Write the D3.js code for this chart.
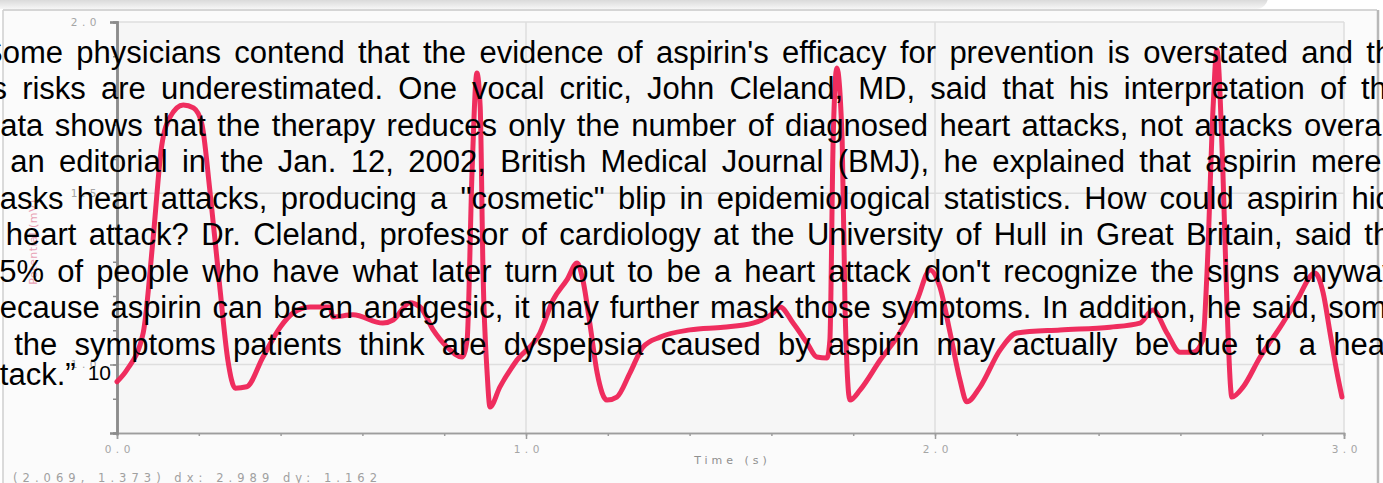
<!DOCTYPE html>
<html><head><meta charset="utf-8">
<script src="https://cdn.jsdelivr.net/npm/d3@7"></script>
<style>html,body{margin:0;padding:0;background:#fff;overflow:hidden}</style>
</head><body>
<svg id="chart" width="1383" height="483"></svg>
<script>
// ---------- data ----------
const timeS = [0.000,0.024,0.064,0.088,0.109,0.130,0.162,0.187,0.207,0.227,0.252,0.271,0.289,0.317,0.357,0.399,0.430,0.472,0.521,0.528,
0.577,0.650,0.675,0.716,0.741,0.773,0.807,0.844,0.856,0.868,0.880,0.888,0.895,0.905,0.912,0.936,0.978,1.034,1.066,1.100,
1.125,1.139,1.156,1.174,1.198,1.222,1.254,1.286,1.328,1.401,1.482,1.555,1.604,1.621,1.653,1.687,1.711,1.736,1.743,1.751,
1.760,1.773,1.780,1.792,1.817,1.866,1.914,1.956,1.988,2.012,2.037,2.061,2.078,2.110,2.159,2.200,2.306,2.428,2.501,2.533,
2.567,2.599,2.631,2.655,2.665,2.680,2.689,2.704,2.714,2.726,2.753,2.795,2.844,2.885,2.929,2.949,2.966,2.983,2.995];
const potentialMV = [0.950,0.984,1.092,1.364,1.636,1.723,1.758,1.749,1.705,1.509,1.218,1.013,0.931,0.935,1.022,1.109,1.150,1.168,1.168,1.139,
1.145,1.121,1.130,1.180,1.168,1.101,1.051,1.022,1.072,1.559,1.851,1.752,1.267,0.975,0.876,0.934,1.013,1.092,1.188,1.247,
1.296,1.247,1.121,0.975,0.896,0.905,0.975,1.051,1.080,1.101,1.109,1.121,1.150,1.168,1.121,1.063,1.022,1.019,1.072,1.655,
1.866,1.655,1.168,0.896,0.926,1.013,1.092,1.188,1.276,1.226,1.092,0.955,0.891,0.934,1.042,1.092,1.101,1.109,1.121,1.159,
1.092,1.036,1.036,1.072,1.267,1.752,1.918,1.559,1.168,0.905,0.934,1.022,1.109,1.188,1.267,1.209,1.092,0.975,0.905];
const xMajorTicks = [0, 1, 2, 3];
const xTickLabels = ["0.0", "1.0", "2.0", "3.0"];
const yMajorTicks = [1.0, 1.5, 2.0];
const yTickLabels = ["1.0", "1.5", "2.0"];
const xTitle = "Time (s)";
const yTitle = "Potential (mV)";
const statusText = "(2.069, 1.373) dx: 2.989 dy: 1.162";
const paragraphLines = [
"Some physicians contend that the evidence of aspirin's efficacy for prevention is overstated and that",
"its risks are underestimated. One vocal critic, John Cleland, MD, said that his interpretation of the",
"data shows that the therapy reduces only the number of diagnosed heart attacks, not attacks overall.",
"In an editorial in the Jan. 12, 2002, British Medical Journal (BMJ), he explained that aspirin merely",
"masks heart attacks, producing a \"cosmetic\" blip in epidemiological statistics. How could aspirin hide",
"a heart attack? Dr. Cleland, professor of cardiology at the University of Hull in Great Britain, said that",
"25% of people who have what later turn out to be a heart attack don't recognize the signs anyway.",
"Because aspirin can be an analgesic, it may further mask those symptoms. In addition, he said, some",
"of the symptoms patients think are dyspepsia caused by aspirin may actually be due to a heart",
"attack.\u201D"
];
const footnoteMark = "10";

// ---------- layout ----------
const W = 1383, H = 483;
const plot = {left: 117, right: 1344, top: 22, bottom: 433};
const textFont = "'Liberation Sans', Arial, sans-serif";
const textSize = 31;
const lineBaselines = [63, 99, 135.5, 172, 208.5, 245, 281.5, 318, 355, 385];
const lineLeft  = [-18, -24, -17, -30, -26, -24, -18, -21, -29, -26];
const lineRight = [1418, 1404, 1404, 1404, 1410, 1416, 1404, 1404, 1404, 0];
const axisFont = "'DejaVu Sans', Verdana, sans-serif";

const svg = d3.select("#chart");
const defs = svg.append("defs");
const g1 = defs.append("linearGradient").attr("id","topShade").attr("x1",0).attr("y1",0).attr("x2",0).attr("y2",1);
g1.append("stop").attr("offset",0.6).attr("stop-color","#c6c6c6");
g1.append("stop").attr("offset",1).attr("stop-color","#f6f6f6");

// frame & backgrounds
svg.append("rect").attr("x",0).attr("y",0).attr("width",W).attr("height",H).attr("fill","#ffffff");
svg.append("rect").attr("x",-20).attr("y",-30).attr("width",1288).attr("height",39).attr("rx",12).attr("fill","url(#topShade)");
svg.append("rect").attr("x",3).attr("y",10).attr("width",1374).attr("height",H).attr("fill","#fbfbfb");
svg.append("line").attr("x1",3).attr("x2",1377).attr("y1",10).attr("y2",10).attr("stroke","#c9c9c9").attr("stroke-width",1.5);
svg.append("line").attr("x1",3).attr("x2",3).attr("y1",10).attr("y2",H).attr("stroke","#cfcfcf").attr("stroke-width",1.5);
svg.append("line").attr("x1",1378).attr("x2",1378).attr("y1",10).attr("y2",H).attr("stroke","#b8b8b8").attr("stroke-width",2.5);

const x = d3.scaleLinear().domain([0, 3]).range([plot.left, plot.right]);
const y = d3.scaleLinear().domain([0.8, 2.0]).range([plot.bottom, plot.top]);

svg.append("rect").attr("x",plot.left).attr("y",plot.top).attr("width",plot.right-plot.left).attr("height",plot.bottom-plot.top).attr("fill","#f6f6f6");

// grid
const grid = svg.append("g").attr("stroke","#dedede").attr("stroke-width",1.5);
grid.selectAll(".vg").data(xMajorTicks.slice(1)).join("line")
  .attr("x1",d=>x(d)).attr("x2",d=>x(d)).attr("y1",plot.top).attr("y2",plot.bottom);
grid.selectAll(".hg").data(yMajorTicks.slice(0,2)).join("line")
  .attr("x1",plot.left).attr("x2",plot.right).attr("y1",d=>y(d)).attr("y2",d=>y(d));
grid.append("line").attr("x1",plot.left).attr("x2",plot.right).attr("y1",plot.top).attr("y2",plot.top);

// axes
const tickLS = 4.5;
const xAxisMinor = d3.axisBottom(x).tickValues(d3.range(0, 3.001, 0.2)).tickSize(3).tickFormat("");
const xAxis = d3.axisBottom(x).tickValues(xMajorTicks).tickSize(6).tickFormat((d,i)=>xTickLabels[i]);
const yAxisMinor = d3.axisLeft(y).tickValues(d3.range(0.8, 2.001, 0.1)).tickSize(4).tickFormat("");
const yAxis = d3.axisLeft(y).tickValues(yMajorTicks).tickSize(7).tickFormat((d,i)=>yTickLabels[i]);

function styleAxis(sel, color, w){
  sel.select(".domain").attr("stroke",color).attr("stroke-width",w);
  sel.selectAll(".tick line").attr("stroke",color).attr("stroke-width",1.5);
  sel.selectAll(".tick text").attr("fill","#a5a5a5").attr("font-family",axisFont).attr("font-size",10.5).attr("letter-spacing",tickLS);
}
const gxm = svg.append("g").attr("transform",`translate(0,${plot.bottom})`).call(xAxisMinor); styleAxis(gxm,"#9d9d9d",1.5);
const gx = svg.append("g").attr("transform",`translate(0,${plot.bottom})`).call(xAxis); styleAxis(gx,"#9d9d9d",1.5);
gx.selectAll(".tick text").attr("dy","1.05em").attr("dx",tickLS/2);
const gym = svg.append("g").attr("transform",`translate(${plot.left},0)`).call(yAxisMinor); styleAxis(gym,"#8c8c8c",2.5);
const gy = svg.append("g").attr("transform",`translate(${plot.left},0)`).call(yAxis); styleAxis(gy,"#8c8c8c",2.5);
gy.selectAll(".tick text").attr("x",-16);

svg.append("text").attr("x",(x(0)+x(3))/2 + 2).attr("y",464).attr("text-anchor","middle")
  .attr("font-family",axisFont).attr("font-size",11).attr("letter-spacing",4).attr("fill","#8f8f8f").text(xTitle);
svg.append("text").attr("transform",`translate(37,242) rotate(-90)`).attr("text-anchor","middle")
  .attr("font-family",axisFont).attr("font-size",11).attr("letter-spacing",0.5).attr("fill","#e48aa4").attr("opacity",0.8).text(yTitle);
svg.append("text").attr("x",13).attr("y",482).attr("font-family",axisFont).attr("font-size",11.5)
  .attr("textLength",364).attr("lengthAdjust","spacing").attr("fill","#a0a0a0").text(statusText);

// ECG trace
const pts = d3.range(Math.min(timeS.length, potentialMV.length)).map(i=>({t:timeS[i], v:potentialMV[i]}));
const line = d3.line().x(d=>x(d.t)).y(d=>y(d.v)).curve(d3.curveMonotoneX);
svg.append("path").datum(pts).attr("d",line).attr("fill","none").attr("stroke","#ee2255")
  .attr("stroke-width",5).attr("stroke-linejoin","round").attr("stroke-linecap","round").attr("opacity",0.95);

// overlay paragraph (justified per line)
const tg = svg.append("g").attr("font-family",textFont).attr("font-size",textSize).attr("fill","#000");
paragraphLines.forEach((ln, i)=>{
  const words = ln.split(" ");
  const nodes = words.map(w=>tg.append("text").attr("y",lineBaselines[i]).text(w));
  const widths = nodes.map(n=>n.node().getComputedTextLength());
  const sum = d3.sum(widths);
  const justify = i < paragraphLines.length - 1;
  const gap = justify && words.length>1 ? (lineRight[i] - lineLeft[i] - sum)/(words.length-1) : textSize*0.278;
  let cx = lineLeft[i];
  nodes.forEach((n,k)=>{ n.attr("x",cx); cx += widths[k] + gap; });
  if(!justify){
    tg.append("text").attr("x",cx - gap + 12).attr("y",lineBaselines[i]-5).attr("font-size",21).text(footnoteMark);
  }
});
</script>
</body></html>
